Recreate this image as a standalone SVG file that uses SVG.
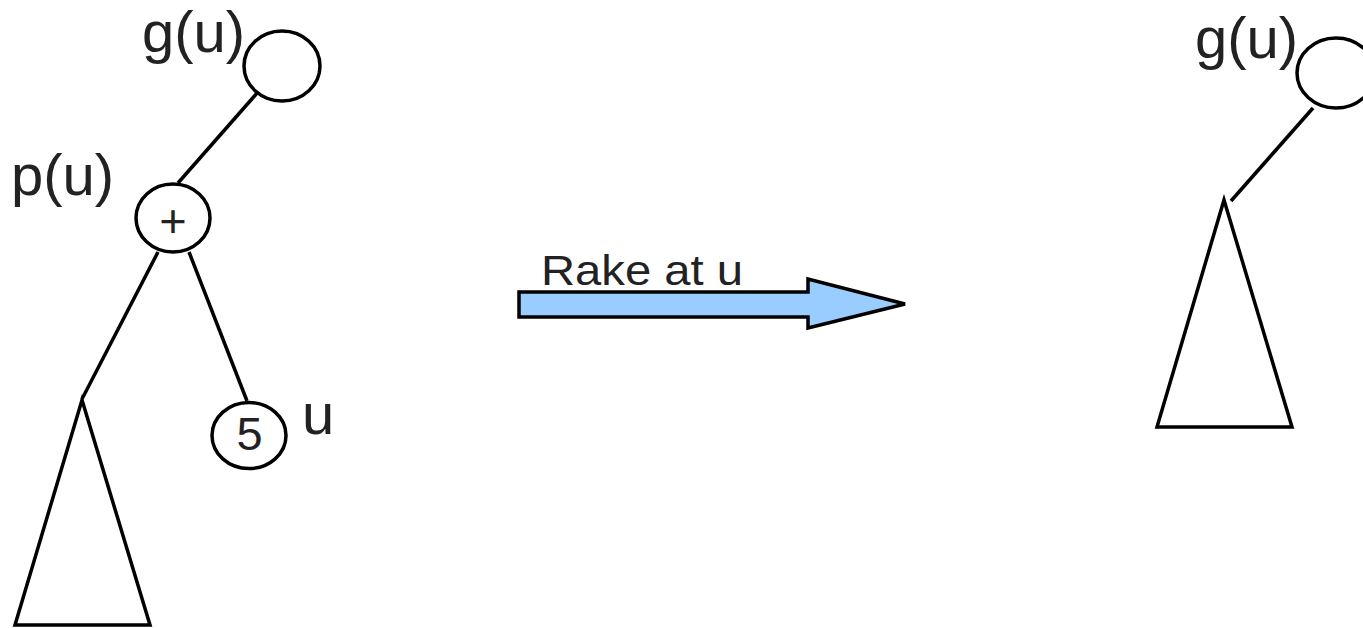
<svg xmlns="http://www.w3.org/2000/svg" width="1363" height="628" viewBox="0 0 1363 628">
<style>
.node{fill:#ffffff;stroke:#000000;stroke-width:3.5}
.edge{stroke:#000000;stroke-width:3.5;fill:none}
.lbl{font-family:"Liberation Sans",Arial,sans-serif;fill:#222222;font-size:58px}
.in{font-family:"Liberation Sans",Arial,sans-serif;fill:#222222;font-size:47px;text-anchor:middle}
</style>
<rect width="1363" height="628" fill="#ffffff"/>
<g id="connectors">
<line class="edge" x1="258" y1="92" x2="178" y2="183"/>
<line class="edge" x1="158" y1="252" x2="82" y2="399"/>
<line class="edge" x1="189" y1="252" x2="247" y2="401"/>
<line class="edge" x1="1313" y1="108" x2="1231" y2="201"/>
</g>
<g id="g-left">
<ellipse class="node" cx="282" cy="66" rx="38" ry="35"/>
<text class="lbl" x="142" y="52" font-size="57">g(u)</text>
</g>
<g id="p-left">
<ellipse class="node" cx="173" cy="218" rx="37" ry="34"/>
<text class="in" x="173" y="237" font-size="53">+</text>
<text class="lbl" x="11" y="195">p(u)</text>
</g>
<g id="u-left">
<ellipse class="node" cx="249" cy="435.5" rx="37" ry="33"/>
<text class="in" x="249.5" y="450">5</text>
<text class="lbl" x="302" y="434">u</text>
</g>
<g id="subtree-left">
<polygon class="node" points="82,400 150,625 15,625"/>
</g>
<g id="rake-arrow">
<polygon points="519,292 808,292 808,279 905,304 808,328 808,317 519,317" fill="#99ccff" stroke="#000000" stroke-width="3.5" stroke-linejoin="miter"/>
<text x="541" y="285" font-family="'Liberation Sans',Arial,sans-serif" font-size="42" fill="#222222" textLength="202" lengthAdjust="spacingAndGlyphs">Rake at u</text>
</g>
<g id="g-right">
<ellipse class="node" cx="1336" cy="73" rx="39" ry="35"/>
<text class="lbl" x="1195" y="58">g(u)</text>
</g>
<g id="subtree-right">
<polygon class="node" points="1224,200 1292,427 1157,427"/>
</g>
</svg>
